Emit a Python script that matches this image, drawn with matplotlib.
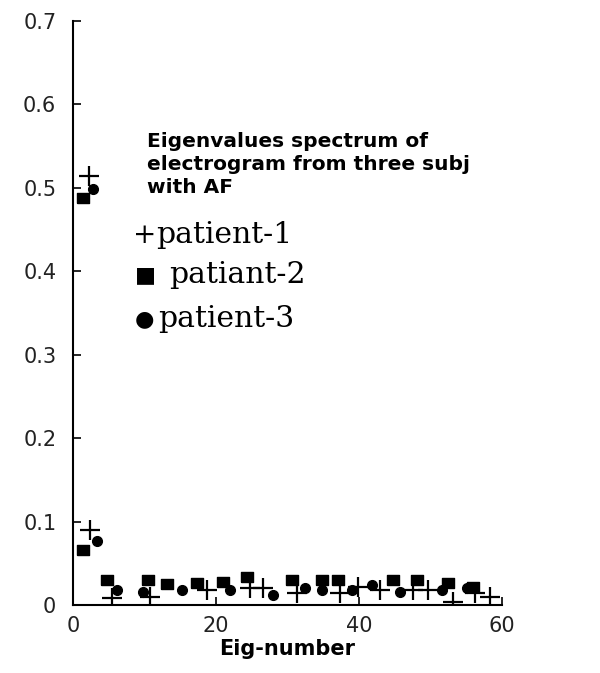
import numpy as np
import matplotlib
matplotlib.use('Agg')
import matplotlib.pyplot as plt

# patient-1 (plus markers)
p1_x = [2.2, 2.4, 5.4, 10.8, 18.7, 24.8, 26.6, 31.3, 37.3, 39.9, 42.9, 47.6, 49.7, 53.2, 56.2, 58.3]
p1_y = [0.514, 0.090, 0.008, 0.010, 0.018, 0.020, 0.020, 0.014, 0.014, 0.022, 0.018, 0.018, 0.018, 0.003, 0.014, 0.010]

# patiant-2 (square markers)
p2_x = [1.4, 1.4, 4.7, 10.5, 13.1, 17.3, 21.0, 24.3, 30.6, 34.8, 37.0, 44.8, 48.1, 52.4, 56.0]
p2_y = [0.488, 0.066, 0.030, 0.030, 0.025, 0.026, 0.028, 0.034, 0.030, 0.030, 0.030, 0.030, 0.030, 0.026, 0.022]

# patient-3 (circle markers)
p3_x = [2.8, 3.4, 6.1, 9.8, 15.2, 22.0, 28.0, 32.4, 34.8, 39.0, 41.8, 45.7, 51.6, 55.1]
p3_y = [0.499, 0.077, 0.018, 0.016, 0.018, 0.018, 0.012, 0.020, 0.018, 0.018, 0.024, 0.016, 0.018, 0.020]

x_ticks = [0, 20, 40, 60]
y_ticks = [0, 0.1, 0.2, 0.3, 0.4, 0.5, 0.6, 0.7]
y_tick_labels = ['0', '0.1', '0.2', '0.3', '0.4', '0.5', '0.6', '0.7']

W, H = 600, 673
fig = plt.figure(figsize=(W / 100, H / 100), dpi=100)
ax = fig.add_axes([73 / W, 1 - 605 / H, (502 - 73) / W, (605 - 21) / H])

rect = [(-1.25, -1), (1.25, -1), (1.25, 1), (-1.25, 1), (-1.25, -1)]
ax.plot(p1_x, p1_y, linestyle='none', marker='+', markersize=15, mew=1.6, color='black')
ax.plot(p2_x, p2_y, linestyle='none', marker=rect, markersize=8.5, color='black')
ax.plot(p3_x, p3_y, linestyle='none', marker='o', markersize=7, color='black')

ax.set_xlim(0, 60)
ax.set_ylim(0, 0.7)
ax.set_xticks(x_ticks)
ax.set_yticks(y_ticks)
ax.set_yticklabels(y_tick_labels)
ax.spines['top'].set_visible(False)
ax.spines['right'].set_visible(False)
for s in ('left', 'bottom'):
    ax.spines[s].set_linewidth(1.5)
ax.tick_params(direction='in', length=6, width=1.2, labelsize=15, labelcolor='#222222')
ax.tick_params(axis='y', pad=12)
ax.tick_params(axis='x', pad=8)
ax.set_xlabel('Eig-number', fontsize=15, fontweight='bold', labelpad=2)

def px(x, y):
    return x / W, 1 - y / H

# title-like annotation
title_lines = ['Eigenvalues spectrum of', 'electrogram from three subj', 'with AF']
for i, line in enumerate(title_lines):
    fig.text(*px(147, 147 + 23 * i), line, fontsize=14.5, fontweight='bold',
             ha='left', va='baseline')

# legend as text: symbol, symbol x, label, label x, baseline y
legend_items = [('+', 133, 'patient-1', 156, 243),
                ('\u25a0', 135, 'patiant-2', 169, 283),
                ('\u25cf', 135, 'patient-3', 158, 327)]
for sym, sx, label, lx, ly in legend_items:
    fig.text(*px(sx, ly - (0 if sym == '+' else 2)), sym,
             fontsize=20 if sym == '+' else 16,
             family=['DejaVu Serif', 'DejaVu Sans'], ha='left', va='baseline')
    fig.text(*px(lx, ly), label, fontsize=21.5, family='DejaVu Serif',
             ha='left', va='baseline')

fig.savefig('out.png', dpi=100)
